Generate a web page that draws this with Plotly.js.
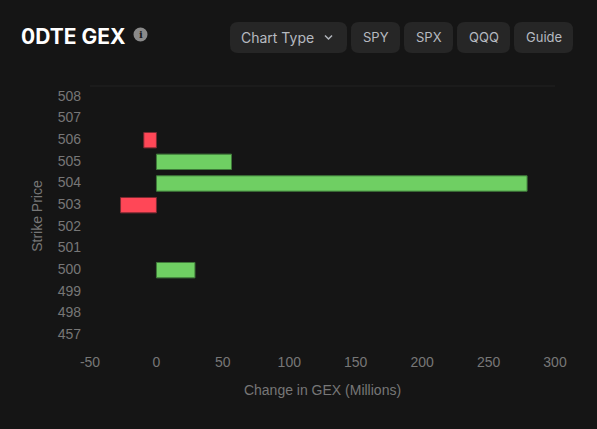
<!DOCTYPE html>
<html>
<head>
<meta charset="utf-8">
<script src="https://cdn.plot.ly/plotly-3.0.1.min.js"></script>
<style>html,body{margin:0;padding:0;background:#151515;overflow:hidden}#chart{width:597px;height:429px}</style>
</head>
<body>
<div id="chart"></div>
<script>
const strikes = ['508','507','506','505','504','503','502','501','500','499','498','457'];
const gex = [0, 0, -9.5, 56.5, 279, -27, 0, 0, 29, 0, 0, 0];
const xTicks = [-50, 0, 50, 100, 150, 200, 250, 300];
const buttons = [
  {label:'Chart Type', x0:230, x1:347, tx:277.5, size:14},
  {label:'SPY', x0:351, x1:400, tx:376, size:13},
  {label:'SPX', x0:404, x1:453, tx:429, size:13},
  {label:'QQQ', x0:457, x1:510, tx:484, size:13},
  {label:'Guide', x0:514, x1:573, tx:543.5, size:13}
];
const W = 597, H = 429, M = {l:90, r:42, t:86, b:83};
const px = x => (x - M.l) / (W - M.l - M.r);
const py = y => 1 - (y - M.t) / (H - M.t - M.b);
function roundRect(x0, y0, x1, y1, r) {
  const P = (x, y) => px(x) + ',' + py(y);
  return 'M' + P(x0 + r, y0) + ' L' + P(x1 - r, y0) + ' Q' + P(x1, y0) + ' ' + P(x1, y0 + r) +
    ' L' + P(x1, y1 - r) + ' Q' + P(x1, y1) + ' ' + P(x1 - r, y1) +
    ' L' + P(x0 + r, y1) + ' Q' + P(x0, y1) + ' ' + P(x0, y1 - r) +
    ' L' + P(x0, y0 + r) + ' Q' + P(x0, y0) + ' ' + P(x0 + r, y0) + ' Z';
}
const shapes = buttons.map(b => ({type:'path', xref:'paper', yref:'paper', path:roundRect(b.x0, 22, b.x1, 53, 8), fillcolor:'#262626', line:{width:0}, layer:'below'}));
shapes.push({type:'path', xref:'paper', yref:'paper', path:'M'+px(325)+','+py(35.5)+' L'+px(328.5)+','+py(39)+' L'+px(332)+','+py(35.5), line:{color:'#b0b4ba', width:1.5}, fillcolor:'rgba(0,0,0,0)'});
shapes.push({type:'circle', xref:'paper', yref:'paper', x0:px(133.5), x1:px(147.5), y0:py(41.5), y1:py(27.5), fillcolor:'#8a8a8a', line:{width:0}});
shapes.push({type:'line', xref:'paper', yref:'paper', x0:0, x1:1, y0:py(86), y1:py(86), line:{color:'#232323', width:1}});
const note = (text, x, y, size, color, family, anchor) => ({text, xref:'paper', yref:'paper', x:px(x), y:py(y), xanchor:anchor||'center', yanchor:'middle', showarrow:false, font:{size, color, family}});
const annotations = [
  note('<b>0DTE GEX</b>', 19, 36, 21, '#ffffff', 'Inter, sans-serif', 'left'),
  note('<b>i</b>', 140.5, 34.5, 10, '#1a1a1a', 'DejaVu Serif, serif')
].concat(buttons.map(b => note(b.label, b.tx, 37, b.size, '#b6bac0', 'Inter, sans-serif')));
const data = [{
  type:'bar', orientation:'h', y:strikes, x:gex,
  marker:{
    color:gex.map(v => v < 0 ? '#ff4757' : '#6fcf63'),
    line:{color:gex.map(v => v < 0 ? '#7c2a32' : '#3f7a3a'), width:gex.map(v => v === 0 ? 0 : 1)}
  },
  hoverinfo:'x+y'
}];
const layout = {
  width:W, height:H, margin:M, paper_bgcolor:'#151515', plot_bgcolor:'#151515', showlegend:false, bargap:0.29,
  font:{family:'Liberation Sans, Arial, sans-serif', size:14, color:'#777777'},
  xaxis:{range:[-50,300], tickmode:'array', tickvals:xTicks, ticktext:xTicks.map(String), showgrid:false, zeroline:false, showline:false, ticks:'', ticklabelstandoff:6, tickfont:{size:14, color:'#777777'},
    title:{text:'Change in GEX (Millions)', font:{size:14, color:'#777777'}, standoff:16}, automargin:false},
  yaxis:{type:'category', categoryorder:'array', categoryarray:strikes.slice().reverse(), showgrid:false, zeroline:false, showline:false, ticks:'', ticklabelstandoff:8, ticklabelshift:-1, tickfont:{size:14, color:'#777777'},
    title:{text:'Strike Price', font:{size:14, color:'#777777'}, standoff:11}, automargin:false},
  shapes, annotations
};
Plotly.newPlot('chart', data, layout, {displayModeBar:false});
</script>
</body>
</html>
